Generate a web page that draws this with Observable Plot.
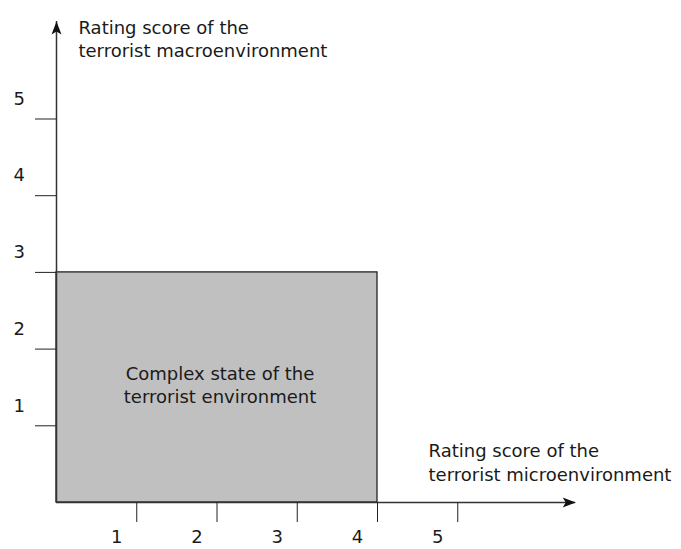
<!DOCTYPE html>
<html>
<head>
<meta charset="utf-8">
<script src="https://cdn.jsdelivr.net/npm/d3@7"></script>
<script src="https://cdn.jsdelivr.net/npm/@observablehq/plot@0.6"></script>
<style>
  html, body { margin: 0; padding: 0; background: #fff; }
  #chart { width: 681px; height: 549px; }
</style>
</head>
<body>
<div id="chart"></div>
<script>
// Data
const xTicks = [1, 2, 3, 4, 5];
const yTicks = [1, 2, 3, 4, 5];
const regionX = [0, 4];
const regionY = [0, 3];
const regionLabel = "Complex state of the\nterrorist environment";
const xAxisEnd = 6.47;
const yAxisEnd = 6.27;
const xTitle = "Rating score of the\nterrorist microenvironment";
const yTitle = "Rating score of the\nterrorist macroenvironment";
const xTitlePos = [4.636, 0.80];
const yTitlePos = [0.274, 6.33];

const region = [{x1: regionX[0], x2: regionX[1], y1: regionY[0], y2: regionY[1], label: regionLabel}];

// custom filled arrowhead symbol, tip at origin, pointing up
const arrowHead = {
  draw(ctx) {
    ctx.moveTo(0, 0);
    ctx.lineTo(-5, 13);
    ctx.lineTo(0, 10);
    ctx.lineTo(5, 13);
    ctx.closePath();
  }
};

const W = 681, H = 549;
const mL = 56, mB = 47;
const xUnit = 80.25, yUnit = 76.7;
const xDom = [0, 7], yDom = [0, 6.5];

const font = "'DejaVu Sans', Verdana, sans-serif";
const ink = "#1a1a1a";
const fs = 18;

const chart = Plot.plot({
  width: W,
  height: H,
  marginLeft: mL,
  marginRight: W - (mL + xUnit * xDom[1]),
  marginBottom: mB,
  marginTop: (H - mB) - yUnit * yDom[1],
  x: {domain: xDom, axis: null},
  y: {domain: yDom, axis: null},
  style: {fontFamily: font, fontSize: fs + "px", color: ink, background: "#fff"},
  marks: [
    Plot.rect(region, {x1: "x1", x2: "x2", y1: "y1", y2: "y2", fill: "#c0c0c0", stroke: "#222", strokeWidth: 1.3}),
    Plot.text(region, {x: d => (d.x1 + d.x2) / 2, y: d => (d.y1 + d.y2) / 2, text: "label", dx: 3, dy: -3, fontSize: fs, lineHeight: 1.28, fill: ink}),
    // axis lines
    Plot.ruleY([0], {x1: 0, x2: xAxisEnd, stroke: "#333", strokeWidth: 1.5}),
    Plot.ruleX([0], {y1: 0, y2: yAxisEnd, stroke: "#333", strokeWidth: 1.5}),
    // arrowheads
    Plot.dot([{x: xAxisEnd, y: 0}], {x: "x", y: "y", symbol: arrowHead, fill: "#111", stroke: "none", rotate: 90}),
    Plot.dot([{x: 0, y: yAxisEnd}], {x: "x", y: "y", symbol: arrowHead, fill: "#111", stroke: "none", rotate: 0}),
    // ticks
    Plot.axisX(xTicks, {anchor: "bottom", tickSize: 20, tickFormat: () => "", stroke: "#222"}),
    Plot.axisY(yTicks, {anchor: "left", tickSize: 21, tickFormat: () => "", stroke: "#222"}),
    // tick labels
    Plot.text(xTicks, {x: d => d, text: d => String(d), frameAnchor: "bottom", dx: -20, dy: 40, fontSize: fs, fill: ink}),
    Plot.text(yTicks, {y: d => d, text: d => String(d), frameAnchor: "left", dx: -43, dy: -20, fontSize: fs, fill: ink}),
    // titles
    Plot.text([xTitle], {x: () => xTitlePos[0], y: () => xTitlePos[1], text: d => d, textAnchor: "start", lineAnchor: "top", lineHeight: 1.28, fontSize: fs, fill: ink}),
    Plot.text([yTitle], {x: () => yTitlePos[0], y: () => yTitlePos[1], text: d => d, textAnchor: "start", lineAnchor: "top", lineHeight: 1.3, fontSize: fs, fill: ink})
  ]
});

document.getElementById("chart").appendChild(chart);
</script>
</body>
</html>
